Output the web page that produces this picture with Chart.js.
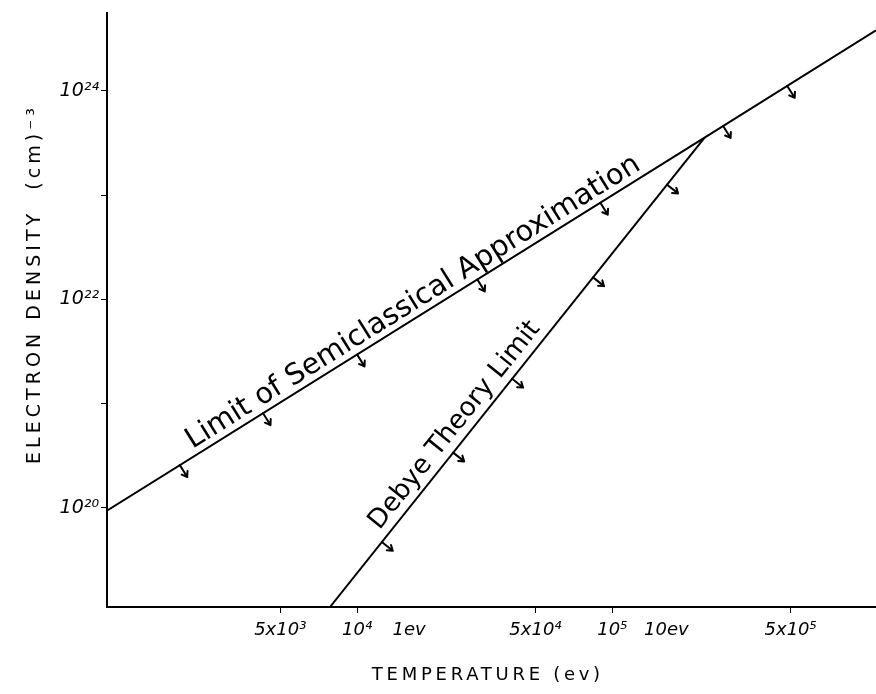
<!DOCTYPE html>
<html>
<head>
<meta charset="utf-8">
<script src="https://cdn.jsdelivr.net/npm/chart.js@4.4.0/dist/chart.umd.min.js"></script>
<style>
  html, body { margin: 0; padding: 0; background: #fff; }
  #wrap { width: 876px; height: 694px; }
</style>
</head>
<body>
<div id="wrap"><canvas id="chart"></canvas></div>
<script>
// temperature (K) and electron density (cm^-3)
const semiTemp = [1050, 230000, 1080000];
const semiDensity = [9.4e19, 3.56e23, 3.82e24];
const debyeTemp = [7830, 230000];
const debyeDensity = [1.11e19, 3.56e23];

// the little arrows hanging off each line
const semiArrowTemp = [2020, 4280, 10000, 29600, 89800, 272000, 485000];
const debyeArrowTemp = [12500, 23800, 40500, 84100, 164000];

const xTickValues = [5000, 10000, 16000, 50000, 100000, 163000, 500000];
const xTickLabels = ["5x10³", "10⁴", "1ev", "5x10⁴", "10⁵", "10ev", "5x10⁵"];
const yTickValues = [1e20, 1e21, 1e22, 1e23, 1e24];
const yTickLabels = ["10²⁰", "", "10²²", "", "10²⁴"];

const lineLabels = [
  { text: "Limit of Semiclassical Approximation", temps: semiTemp, dens: semiDensity, at: 17800, length: 530, offset: 7 },
  { text: "Debye Theory Limit", temps: debyeTemp, dens: debyeDensity, at: 27000, length: 258, offset: 9 },
];

const FONT = "'DejaVu Sans', sans-serif";

// point on a drawn line (log-log interpolation) + direction of that segment in pixels
function onLine(chart, temps, dens, t) {
  const xs = chart.scales.x, ys = chart.scales.y;
  let i = 0;
  while (i < temps.length - 2 && t > temps[i + 1]) i++;
  const f = (Math.log(t) - Math.log(temps[i])) / (Math.log(temps[i + 1]) - Math.log(temps[i]));
  const n = Math.exp(Math.log(dens[i]) + f * (Math.log(dens[i + 1]) - Math.log(dens[i])));
  const x0 = xs.getPixelForValue(temps[i]), y0 = ys.getPixelForValue(dens[i]);
  const x1 = xs.getPixelForValue(temps[i + 1]), y1 = ys.getPixelForValue(dens[i + 1]);
  return { x: xs.getPixelForValue(t), y: ys.getPixelForValue(n), a: Math.atan2(y1 - y0, x1 - x0) };
}

function drawArrow(ctx, p) {
  const nx = -Math.sin(p.a), ny = Math.cos(p.a); // normal, pointing down-right
  const len = 14;
  const ex = p.x + nx * len, ey = p.y + ny * len;
  ctx.beginPath();
  ctx.moveTo(p.x, p.y);
  ctx.lineTo(ex, ey);
  const back = Math.atan2(-ny, -nx);
  [0.6, -0.6].forEach(d => {
    ctx.moveTo(ex, ey);
    ctx.lineTo(ex + 6 * Math.cos(back + d), ey + 6 * Math.sin(back + d));
  });
  ctx.stroke();
}

function spacedText(ctx, text, x, y, target, rot) {
  ctx.save();
  ctx.letterSpacing = "0px";
  const w = ctx.measureText(text).width;
  const sp = Math.max(0, (target - w) / text.length);
  ctx.letterSpacing = sp + "px";
  ctx.translate(x, y);
  ctx.rotate(rot);
  ctx.textAlign = "center";
  ctx.textBaseline = "middle";
  ctx.fillText(text, sp / 2, 0);
  ctx.restore();
}

const sketchPlugin = {
  id: "sketch",
  afterDatasetsDraw(chart) {
    const ctx = chart.ctx;
    ctx.save();
    ctx.strokeStyle = "#000";
    ctx.fillStyle = "#000";
    ctx.lineWidth = 2;
    ctx.lineCap = "round";
    semiArrowTemp.forEach(t => drawArrow(ctx, onLine(chart, semiTemp, semiDensity, t)));
    debyeArrowTemp.forEach(t => drawArrow(ctx, onLine(chart, debyeTemp, debyeDensity, t)));

    lineLabels.forEach(l => {
      const p = onLine(chart, l.temps, l.dens, l.at);
      const nx = -Math.sin(p.a), ny = Math.cos(p.a);
      ctx.save();
      ctx.font = "10px " + FONT;
      const size = 10 * l.length / ctx.measureText(l.text).width;
      ctx.font = size.toFixed(1) + "px " + FONT;
      ctx.translate(p.x - nx * l.offset, p.y - ny * l.offset);
      ctx.rotate(p.a);
      ctx.textAlign = "center";
      ctx.textBaseline = "alphabetic";
      ctx.fillText(l.text, 0, 0);
      ctx.restore();
    });

    // axis titles
    ctx.font = "19px " + FONT;
    spacedText(ctx, "ELECTRON DENSITY  (cm)⁻³", 35, 286, 360, -Math.PI / 2);
    ctx.font = "18px " + FONT;
    spacedText(ctx, "TEMPERATURE (ev)", 486, 675, 232, 0);
    ctx.restore();
  }
};

new Chart(document.getElementById("chart"), {
  type: "scatter",
  data: {
    datasets: [
      {
        label: "Limit of Semiclassical Approximation",
        data: semiTemp.map((t, i) => ({ x: t, y: semiDensity[i] })),
      },
      {
        label: "Debye Theory Limit",
        data: debyeTemp.map((t, i) => ({ x: t, y: debyeDensity[i] })),
      },
    ],
  },
  options: {
    responsive: true,
    maintainAspectRatio: false,
    animation: false,
    layout: { padding: { top: 10, right: 0, left: 0, bottom: 0 } },
    elements: {
      line: { borderColor: "#000", borderWidth: 2, tension: 0 },
      point: { radius: 0, hoverRadius: 0 },
    },
    datasets: { scatter: { showLine: true, borderColor: "#000", borderWidth: 2 } },
    plugins: {
      legend: { display: false },
      tooltip: { enabled: false },
    },
    scales: {
      x: {
        type: "logarithmic",
        min: 1047,
        max: 1.08e6,
        afterBuildTicks: s => { s.ticks = xTickValues.map(v => ({ value: v })); },
        afterFit: s => { s.height = 87; },
        ticks: {
          autoSkip: false,
          maxRotation: 0,
          color: "#000",
          padding: 7,
          font: { family: FONT, size: 18, style: "italic" },
          callback: (v, i) => xTickLabels[i],
        },
        grid: {
          drawOnChartArea: false,
          tickLength: 6,
          tickColor: c => (xTickLabels[c.index] || "").includes("ev") ? "rgba(0,0,0,0)" : "#000",
        },
        border: { color: "#000", width: 2 },
      },
      y: {
        type: "logarithmic",
        min: 1.11e19,
        max: 5.56e24,
        afterBuildTicks: s => { s.ticks = yTickValues.map(v => ({ value: v })); },
        afterFit: s => { s.width = 107; },
        ticks: {
          autoSkip: false,
          color: "#000",
          padding: 2,
          font: { family: FONT, size: 19, style: "italic" },
          callback: (v, i) => yTickLabels[i],
        },
        grid: { drawOnChartArea: false, tickLength: 6, tickColor: "#000" },
        border: { color: "#000", width: 2 },
      },
    },
  },
  plugins: [sketchPlugin],
});
</script>
</body>
</html>
